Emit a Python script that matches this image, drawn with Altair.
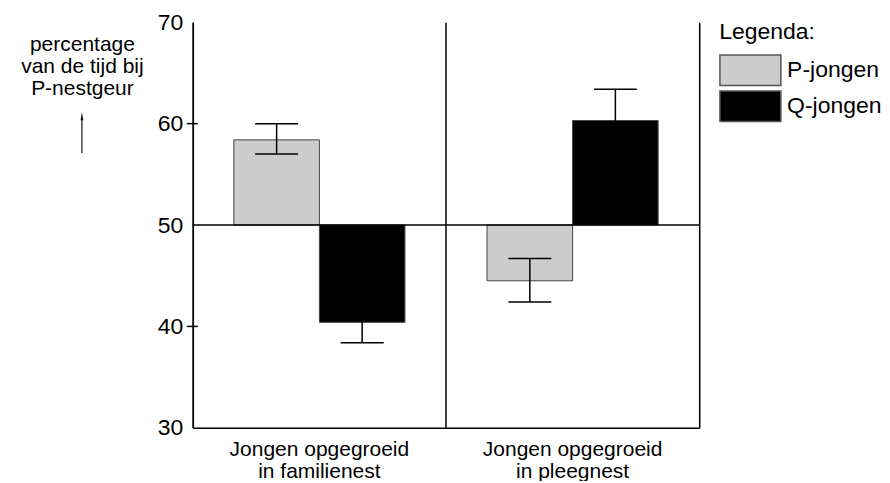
import altair as alt
import pandas as pd

groups = ["Jongen opgegroeid in familienest", "Jongen opgegroeid in pleegnest"]
series = ["P-jongen", "Q-jongen"]
p_mean = [58.4, 44.5]
q_mean = [40.4, 60.3]
p_lo = [57.0, 42.4]
p_hi = [60.0, 46.7]
q_lo = [38.4, 57.2]
q_hi = [42.4, 63.4]
baseline = [50]
y_ticks = [30, 40, 50, 60, 70]
cross_ticks = [40, 60]
colors = ["#cccccc", "#000000"]
y_title = ["percentage", "van de tijd bij", "P-nestgeur"]

rows = []
for i, g in enumerate(groups):
    rows.append(dict(group=g, series=series[0], value=p_mean[i], lo=p_lo[i], hi=p_hi[i]))
    rows.append(dict(group=g, series=series[1], value=q_mean[i], lo=q_lo[i], hi=q_hi[i]))
df = pd.DataFrame(rows)

FONT = "Liberation Sans"
FS = 23
yscale = alt.Scale(domain=[30, 70], nice=False, zero=False)
xscale = alt.Scale(domain=groups, paddingInner=0, paddingOuter=0)
xoff = alt.XOffset("series:N", scale=alt.Scale(domain=series, paddingInner=0, paddingOuter=0.48))

base = alt.Chart(df)

bars = base.mark_bar(stroke="#444444", strokeWidth=1).encode(
    x=alt.X("group:N", scale=xscale, sort=groups,
            axis=alt.Axis(title=None, labelAngle=0, ticks=False, domainColor="black", domainWidth=1.5,
                          labelExpr="[slice(datum.label,0,17), slice(datum.label,18)]",
                          labelFontSize=21, labelPadding=11, labelLineHeight=22, labelColor="black",
                          labelLimit=400)),
    xOffset=xoff,
    y=alt.Y("value:Q", scale=yscale,
            axis=alt.Axis(values=y_ticks, ticks=False, grid=False, domainColor="black", domainWidth=1.5,
                          labelFontSize=FS, labelPadding=10, labelColor="black",
                          title=y_title, titleAngle=0, titleAlign="center", titleBaseline="alphabetic",
                          titleX=-111, titleY=28, titleFontSize=21, titleFontWeight="normal",
                          titleLineHeight=22, titleColor="black", titleLimit=400)),
    y2=alt.datum(50),
    color=alt.Color("series:N", scale=alt.Scale(domain=series, range=colors),
                    legend=alt.Legend(title="Legenda:", orient="none", legendX=527, legendY=-1,
                                      symbolType="M-1,-1H3V1H-1Z", symbolSize=930,
                                      symbolStrokeColor="#555555", symbolStrokeWidth=1.5,
                                      labelFontSize=FS, titleFontSize=FS, titleFontWeight="normal",
                                      labelOffset=36, titlePadding=10, rowPadding=-2, padding=0,
                                      labelColor="black", titleColor="black")),
)

err = base.mark_rule(color="black", strokeWidth=1.5).encode(
    x=alt.X("group:N", scale=xscale, sort=groups,
            axis=alt.Axis(orient="top", grid=True, bandPosition=0, labels=False, ticks=False,
                          domain=False, title=None, gridColor="black", gridWidth=1.5, gridOpacity=1)),
    xOffset=xoff,
    y=alt.Y("lo:Q", scale=yscale,
            axis=alt.Axis(orient="right", labels=False, ticks=False, grid=False, title=None,
                          domainColor="black", domainWidth=1.5)),
    y2="hi:Q",
)

cap_lo = base.mark_tick(color="black", thickness=1.5, size=43, opacity=1).encode(
    x=alt.X("group:N", scale=xscale, sort=groups, axis=None),
    xOffset=xoff,
    y=alt.Y("lo:Q", scale=yscale, axis=None),
)
cap_hi = base.mark_tick(color="black", thickness=1.5, size=43, opacity=1).encode(
    x=alt.X("group:N", scale=xscale, sort=groups, axis=None),
    xOffset=xoff,
    y=alt.Y("hi:Q", scale=yscale, axis=None),
)

base_line = alt.Chart(pd.DataFrame({"v": baseline})).mark_rule(color="black", strokeWidth=1.5).encode(
    y=alt.Y("v:Q", scale=yscale, axis=None)
)

ticks = alt.Chart(pd.DataFrame({"t": cross_ticks})).mark_rule(color="black", strokeWidth=1.5).encode(
    y=alt.Y("t:Q", scale=yscale, axis=None), x=alt.value(-6), x2=alt.value(5)
)

one = pd.DataFrame({"a": [0]})
arrow_shaft = alt.Chart(one).mark_rule(color="#444444", strokeWidth=1.5).encode(
    x=alt.value(-111), y=alt.value(131), y2=alt.value(96)
)
arrow_head = alt.Chart(one).mark_point(shape="M0,-1L0.33,1L-0.33,1Z", filled=True, color="black",
                                       opacity=1, size=64).encode(
    x=alt.value(-111), y=alt.value(94)
)

chart = alt.layer(bars, err, cap_lo, cap_hi, base_line, ticks, arrow_shaft, arrow_head).resolve_axis(
    x="independent", y="independent"
).properties(
    width=507, height=406,
    autosize=alt.AutoSizeParams(type="none"),
    padding={"left": 185, "top": 14, "right": 183, "bottom": 53},
).configure_view(stroke=None).configure_axis(
    labelFont=FONT, titleFont=FONT
).configure_legend(labelFont=FONT, titleFont=FONT)

chart.save("out.html", embed_options={"renderer": "svg", "actions": False})
